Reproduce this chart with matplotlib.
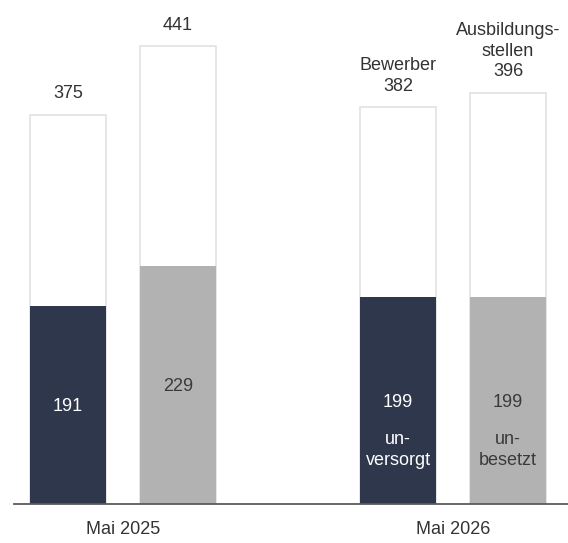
import numpy as np
import matplotlib.pyplot as plt

plt.rcParams['font.family'] = ['Liberation Sans', 'DejaVu Sans']

# data
positions = [0, 1, 3, 4]
totals = [375, 441, 382, 396]
filled = [191, 229, 199, 199]
top_titles = ['', '', 'Bewerber', 'Ausbildungs-\nstellen']
inner_notes = ['', '', 'un-\nversorgt', 'un-\nbesetzt']
groups = ['Mai 2025', 'Mai 2026']
group_pos = [0.5, 3.5]

navy = '#2f374d'
grey = '#b2b2b2'
fill_colors = [navy, grey, navy, grey]
inner_text = ['white', '#3a3a3a', 'white', '#3a3a3a']

fig = plt.figure(figsize=(5.68, 5.43), dpi=100)
ax = fig.add_axes([0, 39 / 543, 1, 1 - 39 / 543])
ax.set_xlim(-68 / 110, 500 / 110)
ax.set_ylim(0, 504 / 1.038)
ax.axis('off')

w = 0.69
ax.bar(positions, totals, width=w, color='white', edgecolor='#e2e2e2', linewidth=1.2, zorder=1)
ax.bar(positions, filled, width=w, color=fill_colors, edgecolor='none', zorder=2)

for x, t, f, ttl, note, c in zip(positions, totals, filled, top_titles, inner_notes, inner_text):
    label = (ttl + '\n' + str(t)) if ttl else str(t)
    ax.annotate(label, (x, t), xytext=(0, 9), textcoords='offset points',
                ha='center', va='bottom', fontsize=13, color='#333333', linespacing=1.3)
    ax.text(x, f / 2 - 1.5, str(f), ha='center', va='center', fontsize=13, color=c, zorder=3)
    if note:
        ax.text(x, 52, note, ha='center', va='center', fontsize=13, color=c,
                linespacing=1.35, zorder=3)

ax.plot([-0.49, 5], [0, 0], color='#5a5a5a', lw=1.3, clip_on=False, zorder=4)

for gx, g in zip(group_pos, groups):
    ax.text(gx, -25 / 1.038, g, ha='center', va='center', fontsize=13, color='#333333')

fig.savefig('out.png', dpi=100)
